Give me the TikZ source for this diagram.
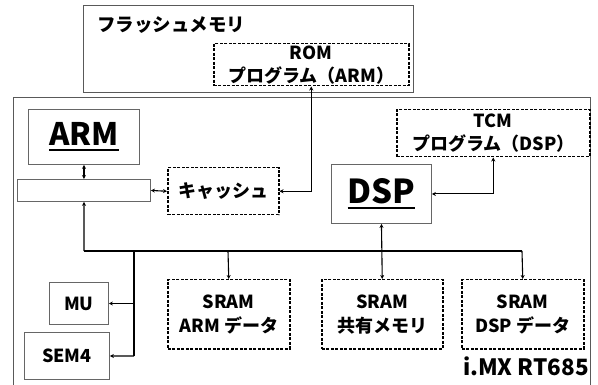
\documentclass[tikz,border=0pt]{standalone}
\usepackage{fontspec}
\setmainfont{Noto Sans CJK JP}
\usetikzlibrary{arrows.meta}
\newcommand\myul[1]{\setbox0\hbox{#1}\leavevmode\rlap{\raisebox{-5pt}{\rule{\wd0}{2pt}}}\box0}
\begin{document}
\begin{tikzpicture}[x=1pt,y=-1pt,
  outer/.style={draw=black!65,line width=1pt,anchor=north west,inner sep=0pt},
  solidbox/.style={draw=black!60,line width=0.9pt,anchor=north west,inner sep=0pt,font=\bfseries},
  dashbox/.style={draw=black,dashed,dash pattern=on 3pt off 1.5pt,line width=1.5pt,anchor=north west,inner sep=0pt,align=center,font=\bfseries\fontsize{18}{23}\selectfont},
  conn/.style={line width=1.1pt,{Stealth[length=4pt,width=4pt]}-{Stealth[length=4pt,width=4pt]}},
  conr/.style={line width=1.1pt,-{Stealth[length=4pt,width=4pt]}},
  line/.style={line width=1.1pt}]
\clip (0,0) rectangle (598,385);
\fill[white] (0,0) rectangle (598,385);
% flash
\node[outer,minimum width=330pt,minimum height=87pt] (flash) at (83,5) {};
\node[anchor=west,inner sep=0pt,font=\bfseries\fontsize{18.5}{20}\selectfont] (flashlbl) at (97,25) {フラッシュメモリ};
\node[dashbox,minimum width=195pt,minimum height=42pt] (rom) at (213,43) {ROM\\プログラム（ARM）};
% outer chip
\node[outer,minimum width=577pt,minimum height=300pt] (chip) at (13,97) {};
\node[anchor=south east,inner sep=0pt,font=\bfseries\fontsize{22.5}{24}\selectfont] (chiplbl) at (589,376) {i.MX RT685};
% ARM
\node[solidbox,minimum width=111pt,minimum height=55pt,font=\bfseries\fontsize{31}{32}\selectfont] (arm) at (28,109) {\myul{ARM}};
\node[solidbox,minimum width=133pt,minimum height=22pt] (bar) at (17,179) {};
\node[dashbox,minimum width=111pt,minimum height=47pt] (cache) at (167,167) {キャッシュ};
% DSP
\node[solidbox,minimum width=100pt,minimum height=59pt,font=\bfseries\fontsize{33}{34}\selectfont] (dsp) at (331,164) {\myul{DSP}};
\node[dashbox,minimum width=193pt,minimum height=47pt] (tcm) at (396,109) {TCM\\プログラム（DSP）};
% lower
\node[solidbox,minimum width=59pt,minimum height=42pt,font=\bfseries\fontsize{18}{20}\selectfont] (mu) at (49,282) {MU};
\node[solidbox,minimum width=85pt,minimum height=47pt,font=\bfseries\fontsize{18}{20}\selectfont] (sem) at (24,332) {SEM4};
\node[dashbox,minimum width=122pt,minimum height=69pt,font=\bfseries\fontsize{18}{24}\selectfont] (armdata) at (167,279) {SRAM\\ARM データ};
\node[dashbox,minimum width=121pt,minimum height=69pt,font=\bfseries\fontsize{18}{24}\selectfont] (shared) at (321,279) {SRAM\\共有メモリ};
\node[dashbox,minimum width=122pt,minimum height=69pt,font=\bfseries\fontsize{18}{24}\selectfont] (dspdata) at (461,279) {SRAM\\DSP データ};
% connectors
\coordinate (busl) at (84,251);
\coordinate (busr) at (522,251);
\coordinate (busa) at (228,251);
\coordinate (busm) at (134,251);
\coordinate (busd) at (134,356);
\draw[conn] (arm.south) -- (bar.north);
\draw[conn] (bar.east) -- (cache.west);
\draw[conn] (rom.south) |- (cache.east);
\draw[conn] (dsp.east) -| (tcm.south);
\draw[conn] (dsp.south) -- (shared.north);
\draw[conr] (busl) -- (bar.south);
\draw[line] (busl) -- (busr);
\draw[conr] (busr) -- (dspdata.north);
\draw[conr] (busa) -- (armdata.north);
\draw[line] (busm) -- (busd);
\draw[conr] (busm |- mu.east) -- (mu.east);
\draw[conr] (busd) -- (sem.east);
\end{tikzpicture}
\end{document}
